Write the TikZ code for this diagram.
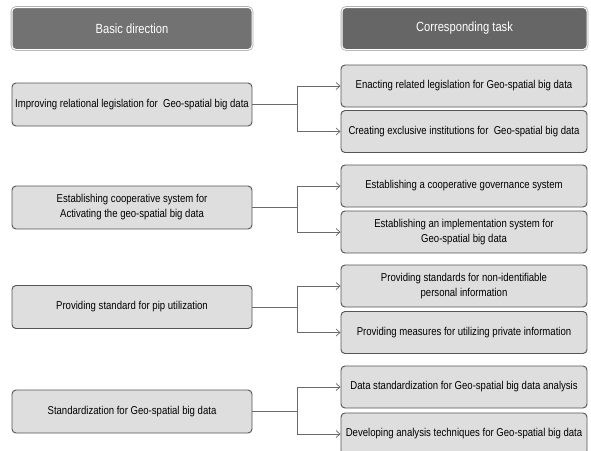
\documentclass[tikz,border=0pt]{standalone}
\usepackage{fontspec}
\setmainfont{Liberation Sans}[FakeStretch=0.84]
\usetikzlibrary{arrows.meta}
\definecolor{hdrL}{HTML}{727272}
\definecolor{hdrR}{HTML}{666666}
\definecolor{boxfill}{HTML}{DEDEDE}
\definecolor{boxline}{HTML}{555555}
\definecolor{connline}{HTML}{6A6A6A}
\tikzset{
  hdr/.style={draw=white, line width=1pt, rounded corners=4pt,
    preaction={draw=gray!60, line width=2.6pt},
    minimum height=42pt, inner sep=0pt, text=white,
    font=\fontsize{13.3}{15}\selectfont},
  lbox/.style={draw=boxline, fill=boxfill, line width=0.95pt, rounded corners=4pt,
    minimum width=240pt, minimum height=43pt, inner sep=0pt, align=center,
    font=\fontsize{11.4}{15}\selectfont},
  rbox/.style={lbox, minimum width=246pt, minimum height=42pt},
  conn/.style={draw=connline, line width=0.7pt},
  arr/.style={conn, -{Straight Barb[length=4pt,width=7pt]}}
}
\begin{document}
\begin{tikzpicture}[x=1pt,y=-1pt]
\clip (0,0) rectangle (591,450);
\fill[white] (0,0) rectangle (591,450);
% headers
\node[hdr, fill=hdrL, minimum width=240pt] (h1) at (132,28.5) {Basic direction};
\node[hdr, fill=hdrR, minimum width=245pt] (h2) at (464.5,28.5) {Corresponding task};
% left boxes
\node[lbox] (l1) at (132,104.5) {Improving relational legislation for\ \ Geo-spatial big data};
\node[lbox] (l2) at (132,207.5) {Establishing cooperative system for\\Activating the geo-spatial big data};
\node[lbox] (l3) at (132,307) {Providing standard for pip utilization};
\node[lbox] (l4) at (132,411.5) {Standardization for Geo-spatial big data};
% right boxes
\node[rbox] (r1) at (464,86) {Enacting related legislation for Geo-spatial big data};
\node[rbox] (r2) at (464,131.5) {Creating exclusive institutions for\ \ Geo-spatial big data};
\node[rbox] (r3) at (464,186) {Establishing a cooperative governance system};
\node[rbox] (r4) at (464,232) {Establishing an implementation system for\\Geo-spatial big data};
\node[rbox] (r5) at (464,286) {Providing standards for non-identifiable\\personal information};
\node[rbox] (r6) at (464,332.5) {Providing measures for utilizing private information};
\node[rbox] (r7) at (464,387) {Data standardization for Geo-spatial big data analysis};
\node[rbox] (r8) at (464,434) {Developing analysis techniques for Geo-spatial big data};
% junctions
\coordinate (j1) at (297,104.5);
\coordinate (j2) at (297,207.5);
\coordinate (j3) at (297,307);
\coordinate (j4) at (297,411.5);
\draw[conn] (l1.east) -- (j1);
\draw[arr] (j1) |- (r1.west);
\draw[arr] (j1) |- (r2.west);
\draw[conn] (l2.east) -- (j2);
\draw[arr] (j2) |- (r3.west);
\draw[arr] (j2) |- (r4.west);
\draw[conn] (l3.east) -- (j3);
\draw[arr] (j3) |- (r5.west);
\draw[arr] (j3) |- (r6.west);
\draw[conn] (l4.east) -- (j4);
\draw[arr] (j4) |- (r7.west);
\draw[arr] (j4) |- (r8.west);
\end{tikzpicture}
\end{document}
